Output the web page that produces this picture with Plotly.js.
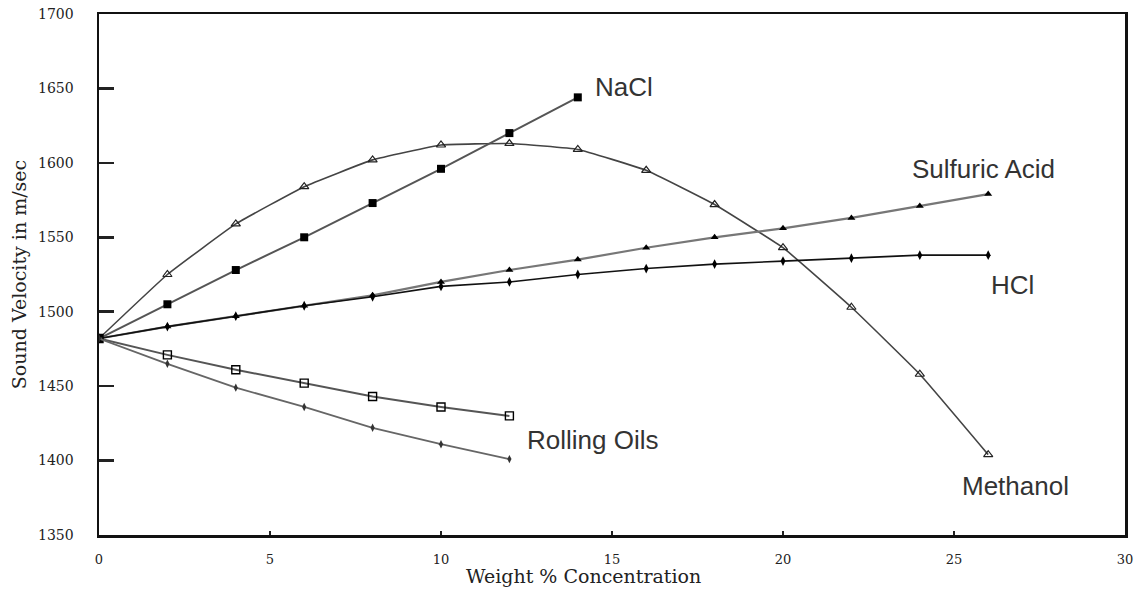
<!DOCTYPE html>
<html><head><meta charset="utf-8">
<script src="https://cdn.plot.ly/plotly-3.0.1.min.js"></script>
<style>html,body{margin:0;padding:0;background:#fff}#chart{width:1136px;height:600px}</style>
</head><body><div id="chart"></div>
<script>
const xMethanol = [0,2,4,6,8,10,12,14,16,18,20,22,24,26];
const yMethanol = [1482,1525,1559,1584,1602,1612,1613,1609,1595,1572,1543,1503,1458,1404];
const xNaCl = [0,2,4,6,8,10,12,14];
const yNaCl = [1482,1505,1528,1550,1573,1596,1620,1644];
const xSulfuric = [0,2,4,6,8,10,12,14,16,18,20,22,24,26];
const ySulfuric = [1482,1490,1497,1504,1511,1520,1528,1535,1543,1550,1556,1563,1571,1579];
const xHCl = [0,2,4,6,8,10,12,14,16,18,20,22,24,26];
const yHCl = [1482,1490,1497,1504,1510,1517,1520,1525,1529,1532,1534,1536,1538,1538];
const xOilA = [0,2,4,6,8,10,12];
const yOilA = [1482,1471,1461,1452,1443,1436,1430];
const xOilB = [0,2,4,6,8,10,12];
const yOilB = [1482,1465,1449,1436,1422,1411,1401];
const labels = [
  {text:'NaCl', x:15.35, y:1651},
  {text:'Sulfuric Acid', x:25.85, y:1596},
  {text:'HCl', x:26.7, y:1518},
  {text:'Methanol', x:26.8, y:1383},
  {text:'Rolling Oils', x:14.45, y:1414}
];
const xTitle = 'Weight % Concentration';
const yTitle = 'Sound Velocity in m/sec';

const traces = [
  {x:xMethanol, y:yMethanol, mode:'lines+markers', line:{color:'#444', width:1.6, shape:'spline', smoothing:0.3},
   marker:{symbol:'triangle-up-open', size:8, color:'#222', line:{width:1.2}}},
  {x:xNaCl, y:yNaCl, mode:'lines+markers', line:{color:'#555', width:2},
   marker:{symbol:'square', size:8, color:'#000'}},
  {x:xSulfuric, y:ySulfuric, mode:'lines+markers', line:{color:'#777', width:2.2},
   marker:{symbol:'triangle-up', size:7, color:'#000'}},
  {x:xHCl, y:yHCl, mode:'lines+markers', line:{color:'#111', width:1.6},
   marker:{symbol:'diamond-tall', size:7, color:'#000'}},
  {x:xOilA, y:yOilA, mode:'lines+markers', line:{color:'#555', width:2},
   marker:{symbol:'square-open', size:8, color:'#000', line:{width:1.4}}},
  {x:xOilB, y:yOilB, mode:'lines+markers', line:{color:'#666', width:1.8},
   marker:{symbol:'diamond-tall', size:6, color:'#333'}}
];

const serif = 'DejaVu Serif, Liberation Serif, serif';
const annots = labels.map(l => ({x:l.x, y:l.y, xref:'x', yref:'y', text:l.text, showarrow:false,
    font:{family:'Liberation Sans, Arial, sans-serif', size:26, color:'#333'}}));
annots.push({x:0.4727, y:-0.079, xref:'paper', yref:'paper', xanchor:'center', yanchor:'middle',
  text:xTitle, showarrow:false, font:{size:19, family:serif, color:'#222'}});

const layout = {
  width:1136, height:600, showlegend:false,
  paper_bgcolor:'#fff', plot_bgcolor:'#fff',
  margin:{l:99, r:11, t:14, b:65},
  font:{family:serif, color:'#222'},
  xaxis:{range:[0,30], dtick:5, tick0:0, showgrid:false, zeroline:false,
    showline:true, mirror:true, linecolor:'#111', linewidth:2.5,
    ticks:'inside', ticklen:4, tickcolor:'#222', tickwidth:2,
    tickfont:{size:13, family:serif, color:'#222'},
    ticklabelstandoff:11},
  yaxis:{range:[1350,1700], dtick:50, tick0:1350, showgrid:false, zeroline:false,
    showline:true, mirror:true, linecolor:'#111', linewidth:2.5,
    ticks:'inside', ticklen:15, tickcolor:'#222', tickwidth:2.5,
    tickfont:{size:14, family:serif, color:'#222'},
    ticklabelstandoff:20,
    title:{text:yTitle, font:{size:19, family:serif, color:'#222'}, standoff:7}},
  annotations: annots
};
Plotly.newPlot('chart', traces, layout, {displayModeBar:false, staticPlot:true});
</script></body></html>
